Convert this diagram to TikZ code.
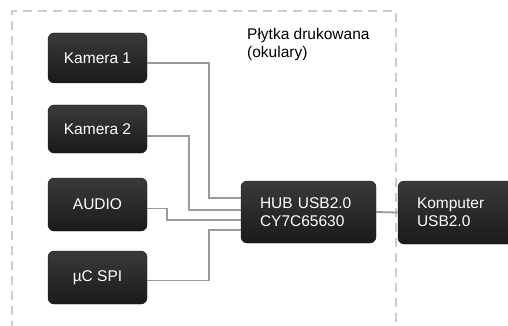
\documentclass[tikz,border=0pt]{standalone}
\usepackage{fontspec}
\setmainfont{Liberation Sans}
\usetikzlibrary{calc}
\definecolor{frame}{HTML}{CCCCCC}
\definecolor{wire}{HTML}{9A9A9A}
\definecolor{boxtop}{HTML}{3A3A3A}
\definecolor{boxbot}{HTML}{1A1A1A}
\tikzset{
  blk/.style={rounded corners=6pt, draw=boxbot, top color=boxtop, bottom color=boxbot,
    text=white, font=\fontsize{15.5}{18}\selectfont, inner sep=0pt},
  wirel/.style={draw=wire, line width=1.8pt},
  framel/.style={draw=frame, line width=1.6pt, dash pattern=on 9pt off 6pt},
}
\begin{document}
\begin{tikzpicture}[x=1pt,y=-1pt]
\useasboundingbox (0,0) rectangle (508,326);
% frame
\draw[framel] (12,330) -- (12,11) -- (396,11) -- (396,330);
\node[anchor=north west, align=left, inner sep=0pt, font=\fontsize{15.5}{18}\selectfont] (title) at (247,28) {Płytka drukowana\\(okulary)};
% blocks
\node[blk, minimum width=99pt, minimum height=50pt] (k1) at (97.5,58) {Kamera 1};
\node[blk, minimum width=99pt, minimum height=48pt] (k2) at (97.5,129) {Kamera 2};
\node[blk, minimum width=99pt, minimum height=53pt] (au) at (97.5,204.5) {AUDIO};
\node[blk, minimum width=99pt, minimum height=53pt] (spi) at (97.5,277.5) {µC SPI};
\node[blk, minimum width=135pt, minimum height=62pt, text width=97pt, inner xsep=19pt, align=left] (hub) at (308.5,212) {HUB USB2.0\\CY7C65630};
\node[blk, minimum width=100pt, minimum height=63pt, text width=80pt, inner xsep=19pt, align=left] (pc) at (457,212.5) {Komputer\\USB2.0};
% wires
\coordinate (h1) at ($(hub.west)+(0,-14)$);
\coordinate (h2) at ($(hub.west)+(0,-2)$);
\coordinate (h3) at ($(hub.west)+(0,8)$);
\coordinate (h4) at ($(hub.west)+(0,18)$);
\draw[wirel] ($(k1.east)+(0,5)$) -- ++(62,0) |- (h1);
\draw[wirel] ($(k2.east)+(0,7)$) -- ++(42,0) |- (h2);
\draw[wirel] ($(au.east)+(0,4)$) -- ++(20,0) |- (h3);
\draw[wirel] ($(spi.east)+(0,3)$) -- ++(62,0) |- (h4);
\draw[wirel] (hub.east) -- (pc.west);
\end{tikzpicture}
\end{document}
